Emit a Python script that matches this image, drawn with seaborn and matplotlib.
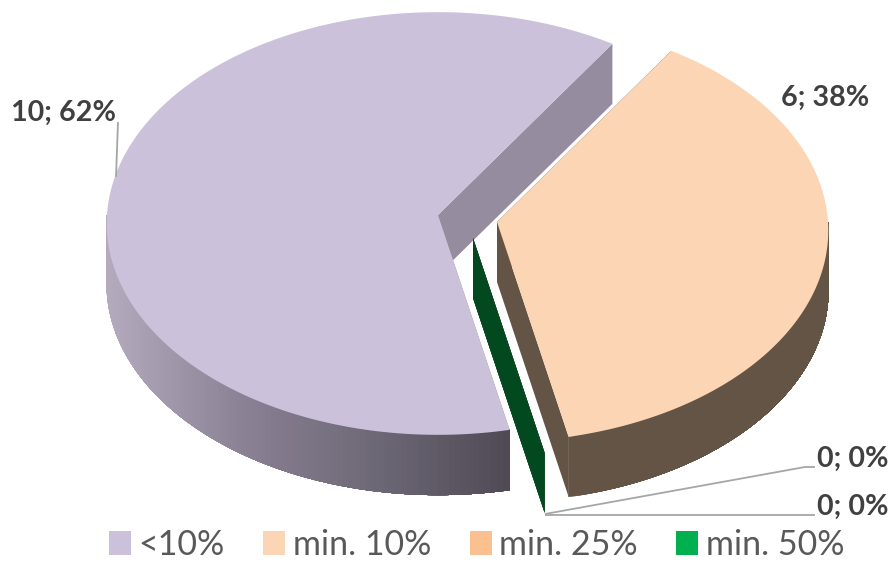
import numpy as np
import matplotlib
matplotlib.use("Agg")
import matplotlib.pyplot as plt
from matplotlib.patches import Patch
import seaborn as sns

categories = ["<10%", "min. 10%", "min. 25%", "min. 50%"]
values = [10, 6, 0, 0]

top_colors = ["#ccc1da", "#fcd5b5", "#fac090", "#00b050"]
cut_colors = ["#958c9f", "#645445", "#645445", "#03491f"]
wall_ramps = [["#b3aabd", "#8a8194", "#6c6775", "#4f4954"],
              ["#645445", "#645445"], ["#645445", "#645445"], ["#03491f", "#03491f"]]
shift = [(0, 0), (59, 7), (35, 23), (35, 23)]
label_xy = [(11, 113, "left"), (781, 98, "left"), (817, 459, "left"), (817, 507, "left")]
leaders = [[(118, 122), (116, 177)], None,
           [(545, 514), (805, 467), (815, 467)], [(545, 515), (815, 515)]]

CX, CY, R, RK, P, DEPTH = 438, 215, 331, 211, 0.0402, 60
START = 282

sns.set_theme(style="white")
plt.rcParams["font.family"] = ["Lato", "DejaVu Sans"]
fig, ax = plt.subplots(figsize=(8.91, 5.61), dpi=100)
ax.set_position([0, 0, 1, 1])
ax.set_xlim(0, 891)
ax.set_ylim(561, 0)
ax.axis("off")


def rim(theta, off):
    t = np.radians(theta)
    w = 1 + P * np.sin(t)
    return CX + off[0] + R * np.cos(t) / w, CY + off[1] - RK * np.sin(t) / w


def draw_slice(a0, sweep, i):
    off = shift[i]
    a1 = a0 - sweep
    apex = (CX + off[0], CY + off[1])
    # cut faces
    for a in (a0, a1):
        x, y = rim(a, off)
        ax.fill([apex[0], x, x, apex[0]],
                [apex[1], y, y + DEPTH, apex[1] + DEPTH],
                color=cut_colors[i], lw=0)
    # outer wall, front half only; each strip runs to the far end, later ones cover it
    th = np.arange(a1, a0 + 0.1, 0.25)
    th = th[np.sin(np.radians(th)) <= 0.001]
    if sweep > 0 and len(th) > 1:
        xs, ys = rim(th, off)
        order = np.argsort(xs)
        xs, ys = xs[order], ys[order]
        pal = sns.blend_palette(wall_ramps[i], 256)
        for k in range(0, len(xs) - 1, 4):
            frac = (xs[k] - 107) / (510 - 107)
            c = pal[int(np.clip(frac, 0, 1) * 255)]
            ax.fill(np.r_[xs[k:], xs[k:][::-1]], np.r_[ys[k:], ys[k:][::-1] + DEPTH],
                    color=c, lw=0.4)
    # top face
    if sweep > 0:
        th = np.linspace(a1, a0, 300)
        xs, ys = rim(th, off)
        ax.fill(np.r_[apex[0], xs], np.r_[apex[1], ys], color=top_colors[i], lw=0)


total = sum(values)
angle = START
starts = []
for v in values:
    starts.append(angle)
    angle -= 360 * v / total

for i in [0, 2, 3, 1]:
    draw_slice(starts[i], 360 * values[i] / total, i)

for i, v in enumerate(values):
    if leaders[i]:
        pts = np.array(leaders[i])
        ax.plot(pts[:, 0], pts[:, 1], color="#a6a6a6", lw=1.3, solid_capstyle="butt")
    x, y, ha = label_xy[i]
    ax.text(x, y, f"{v}; {round(100 * v / total)}%", ha=ha, va="center",
            fontsize=20.6, fontweight="bold", color="#404040")

handles = [Patch(facecolor=c, edgecolor="none", label=l) for c, l in zip(top_colors, categories)]
ax.legend(handles=handles, ncol=4, frameon=False, loc="center left",
          bbox_to_anchor=(109 / 891, 1 - 545 / 561), fontsize=24.5, labelcolor="#595959",
          handlelength=0.647, handleheight=0.676, handletextpad=0.22, columnspacing=1.13,
          borderpad=0, borderaxespad=0)

fig.savefig("out.png", dpi=100, facecolor="white")
